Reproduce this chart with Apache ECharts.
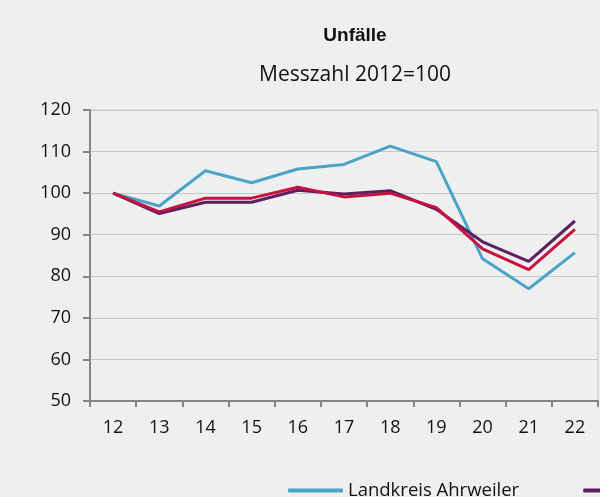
<!DOCTYPE html>
<html>
<head>
<meta charset="utf-8">
<script src="https://cdn.jsdelivr.net/npm/echarts@6/dist/echarts.min.js"></script>
<style>
html, body { margin: 0; padding: 0; background: #eef0ef; }
#chart { width: 600px; height: 497px; }
</style>
</head>
<body>
<div id="chart"></div>
<script>
// Daten, Messzahl 2012=100
var jahre = ['12', '13', '14', '15', '16', '17', '18', '19', '20', '21', '22'];
var ahrweiler = [100, 96.9, 105.4, 102.5, 105.8, 106.9, 111.3, 107.6, 84.2, 77.0, 85.7];
var rlp = [100, 95.1, 97.8, 97.8, 100.7, 99.8, 100.6, 96.1, 88.3, 83.6, 93.3];
var deutschland = [100, 95.5, 98.8, 98.8, 101.4, 99.1, 100.0, 96.5, 86.6, 81.6, 91.3];
var namen = ['Landkreis Ahrweiler', 'Rheinland-Pfalz', 'Deutschland'];
var farben = ['#4ba3c7', '#5c1f5f', '#c8103e'];

var schrift = '"Open Sans", "Noto Sans", sans-serif';

var chart = echarts.init(document.getElementById('chart'));

function linie(name, werte, farbe) {
	return {
		name: name,
		type: 'line',
		data: werte,
		showSymbol: false,
		symbol: 'none',
		lineStyle: { color: farbe, width: 3 },
		itemStyle: { color: farbe },
		animation: false
	};
}

var option = {
	backgroundColor: '#eef0ef',
	textStyle: { fontFamily: schrift },
	title: [
		{
			text: 'Unfälle',
			left: 350, top: 21, textAlign: 'center',
			textStyle: { fontSize: 19, fontWeight: 'bold', color: '#111', fontFamily: '"Liberation Sans", Arial, sans-serif' }
		},
		{
			text: 'Messzahl 2012=100',
			left: 350, top: 60, textAlign: 'center',
			textStyle: { fontSize: 21, fontWeight: 'normal', color: '#111', fontFamily: schrift }
		}
	],
	grid: {
		left: 90, right: 2, top: 110, bottom: 96,
		show: true, borderColor: '#c8c8c8', borderWidth: 1, backgroundColor: 'transparent'
	},
	legend: {
		left: 283, top: 476, width: 1200,
		data: namen,
		icon: 'roundRect',
		itemWidth: 55, itemHeight: 4,
		itemGap: 64,
		textStyle: { fontSize: 18.5, color: '#111', fontFamily: schrift }
	},
	xAxis: {
		type: 'category',
		data: jahre,
		boundaryGap: true,
		axisLine: { lineStyle: { color: '#858585', width: 2 } },
		axisTick: { show: true, length: 6, lineStyle: { color: '#858585', width: 2 } },
		axisLabel: { fontSize: 18, color: '#111', margin: 18, fontFamily: schrift }
	},
	yAxis: {
		type: 'value',
		min: 50, max: 120, interval: 10,
		axisLine: { show: true, lineStyle: { color: '#858585', width: 2 } },
		axisTick: { show: true, length: 7, lineStyle: { color: '#858585', width: 2 } },
		splitLine: { lineStyle: { color: '#c8c8c8', width: 1 } },
		axisLabel: { fontSize: 18, color: '#111', margin: 19, fontFamily: schrift }
	},
	series: [
		linie(namen[0], ahrweiler, farben[0]),
		linie(namen[1], rlp, farben[1]),
		linie(namen[2], deutschland, farben[2])
	]
};
chart.setOption(option);
</script>
</body>
</html>
